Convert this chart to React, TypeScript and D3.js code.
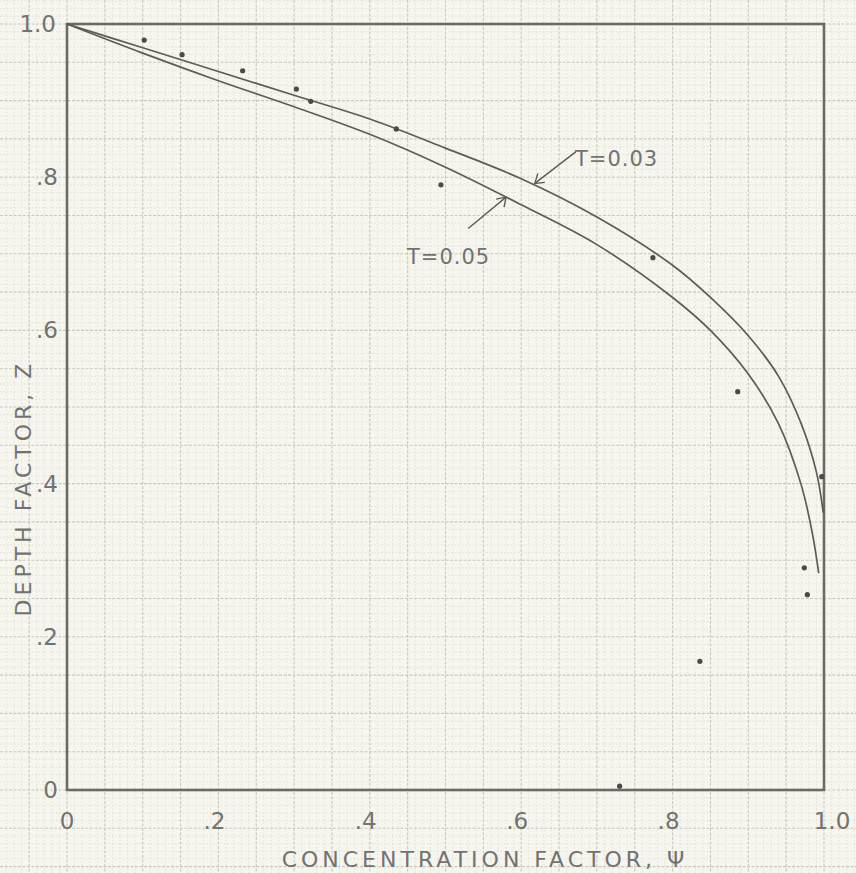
import React from "react";
import * as d3 from "d3";

// Concentration factor (psi) vs depth factor (Z) for two T values
const upperCurveT003: [number, number][] = [
  [0.0, 1.0], [0.1, 0.969], [0.2, 0.938], [0.3, 0.907], [0.4, 0.876],
  [0.5, 0.838], [0.6, 0.798], [0.7, 0.748], [0.8, 0.685], [0.85, 0.643],
  [0.9, 0.593], [0.94, 0.54], [0.97, 0.478], [0.99, 0.415], [0.999, 0.362],
];
const lowerCurveT005: [number, number][] = [
  [0.0, 1.0], [0.1, 0.962], [0.2, 0.926], [0.3, 0.892], [0.4, 0.856],
  [0.5, 0.813], [0.6, 0.764], [0.7, 0.712], [0.8, 0.643], [0.85, 0.6],
  [0.9, 0.543], [0.94, 0.478], [0.97, 0.398], [0.985, 0.333], [0.993, 0.283],
];
const observedPoints: [number, number][] = [
  [0.102, 0.979], [0.152, 0.96], [0.232, 0.939], [0.303, 0.915], [0.322, 0.899],
  [0.435, 0.863], [0.494, 0.79], [0.774, 0.695], [0.886, 0.52], [0.997, 0.409],
  [0.974, 0.29], [0.978, 0.255], [0.836, 0.168], [0.73, 0.005],
];
const xTickValues = [0, 0.2, 0.4, 0.6, 0.8, 1.0];
const xTickLabels = ["0", ".2", ".4", ".6", ".8", "1.0"];
const yTickValues = [0, 0.2, 0.4, 0.6, 0.8, 1.0];
const yTickLabels = ["0", ".2", ".4", ".6", ".8", "1.0"];

const W = 856;
const H = 873;
const left = 67, right = 824, top = 24, bottom = 790;

export default function App() {
  const x = d3.scaleLinear().domain([0, 1]).range([left, right]);
  const y = d3.scaleLinear().domain([0, 1]).range([bottom, top]);

  const line = d3
    .line<[number, number]>()
    .x((d) => x(d[0]))
    .y((d) => y(d[1]))
    .curve(d3.curveCatmullRom.alpha(0.5));

  // graph-paper rulings, 0.01 apart, extending over the whole sheet
  const xs = d3.range(-9, 106);
  const ys = d3.range(-12, 104);

  const pencil = "#5c5c58";
  const ink = "#727270";
  const font = "'DejaVu Sans', sans-serif";

  return (
    <svg
      width={W}
      height={H}
      style={{ position: "absolute", left: 0, top: 0, background: "#f6f5ee" }}
    >
      <rect x={0} y={0} width={W} height={H} fill="#f6f5ee" />
      <g>
        {xs.map((i) => {
          const major = i % 5 === 0;
          return (
            <line
              key={"gx" + i}
              x1={x(i / 100)}
              x2={x(i / 100)}
              y1={0}
              y2={H}
              stroke={major ? "#c9c9be" : "#dedcd2"}
              strokeWidth={major ? 1.1 : 0.8}
              strokeDasharray={major ? "3,1.5" : "1.5,2"}
            />
          );
        })}
        {ys.map((i) => {
          const major = i % 5 === 0;
          return (
            <line
              key={"gy" + i}
              x1={0}
              x2={W}
              y1={y(i / 100)}
              y2={y(i / 100)}
              stroke={major ? "#c9c9be" : "#dedcd2"}
              strokeWidth={major ? 1.1 : 0.8}
              strokeDasharray={major ? "3,1.5" : "1.5,2"}
            />
          );
        })}
      </g>

      {/* frame */}
      <rect
        x={left}
        y={top}
        width={right - left}
        height={bottom - top}
        fill="none"
        stroke="#6a6a66"
        strokeWidth={2.6}
      />

      {/* curves */}
      <path d={line(upperCurveT003) ?? ""} fill="none" stroke={pencil} strokeWidth={1.7} />
      <path d={line(lowerCurveT005) ?? ""} fill="none" stroke={pencil} strokeWidth={1.7} />

      {/* observed points */}
      {observedPoints.map((p, i) => (
        <circle key={"pt" + i} cx={x(p[0])} cy={y(p[1])} r={2.6} fill="#4a4a48" />
      ))}

      {/* annotations */}
      <line x1={x(0.672)} y1={y(0.833)} x2={x(0.618)} y2={y(0.792)} stroke={pencil} strokeWidth={1.4} />
      <path
        d={`M${x(0.618) + 10},${y(0.792) - 1} L${x(0.618)},${y(0.792)} L${x(0.618) + 3},${y(0.792) - 10}`}
        fill="none"
        stroke={pencil}
        strokeWidth={1.4}
      />
      <text x={575} y={166} fontFamily={font} fontSize={21} fill={ink} letterSpacing={1}>
        T=0.03
      </text>
      <line x1={x(0.53)} y1={y(0.733)} x2={x(0.58)} y2={y(0.774)} stroke={pencil} strokeWidth={1.4} />
      <path
        d={`M${x(0.58) - 10},${y(0.774) + 2} L${x(0.58)},${y(0.774)} L${x(0.58) - 2},${y(0.774) + 10}`}
        fill="none"
        stroke={pencil}
        strokeWidth={1.4}
      />
      <text x={407} y={264} fontFamily={font} fontSize={21} fill={ink} letterSpacing={1}>
        T=0.05
      </text>

      {/* tick labels */}
      {xTickValues.map((v, i) => (
        <text
          key={"xt" + i}
          x={x(v) + (i === 0 ? 0 : i === 5 ? 8 : -4)}
          y={829}
          textAnchor="middle"
          fontFamily={font}
          fontSize={23}
          fill={ink}
        >
          {xTickLabels[i]}
        </text>
      ))}
      {yTickValues.map((v, i) => (
        <text
          key={"yt" + i}
          x={i === 5 ? 56 : 58}
          y={y(v) + 8}
          textAnchor="end"
          fontFamily={font}
          fontSize={23}
          fill={ink}
        >
          {yTickLabels[i]}
        </text>
      ))}

      {/* axis titles */}
      <text
        x={485}
        y={867}
        textAnchor="middle"
        fontFamily={font}
        fontSize={22}
        fill={ink}
        letterSpacing={4}
      >
        CONCENTRATION FACTOR, Ψ
      </text>
      <text
        transform={`translate(31, ${488}) rotate(-90)`}
        textAnchor="middle"
        fontFamily={font}
        fontSize={22}
        fill={ink}
        letterSpacing={4}
      >
        DEPTH FACTOR, Z
      </text>
    </svg>
  );
}
